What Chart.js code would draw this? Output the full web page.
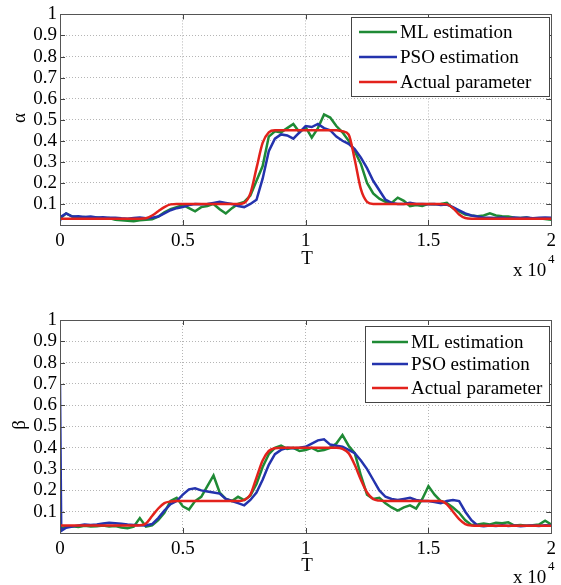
<!DOCTYPE html>
<html>
<head>
<meta charset="utf-8">
<script src="https://cdn.jsdelivr.net/npm/chart.js@4.4.1/dist/chart.umd.min.js"></script>
<style>
  body { margin: 0; background: #fff; width: 561px; height: 585px; position: relative; overflow: hidden; }
  canvas { position: absolute; left: 0; }
</style>
</head>
<body>
<canvas id="alphaChart" width="561" height="290" style="top:0"></canvas>
<canvas id="betaChart" width="561" height="295" style="top:290px"></canvas>
<script>
// sample instants T (shared by all series)
const T = [0, 50, 250, 500, 750, 1000, 1250, 1500, 1750, 2000, 2250, 2500, 2750, 3000, 3250, 3500, 3750, 4000,
  4250, 4500, 4750, 5000, 5250, 5500, 5750, 6000, 6250, 6500, 6750, 7000, 7250, 7500, 7750, 8000,
  8250, 8500, 8750, 9000, 9250, 9500, 9750, 10000, 10250, 10500, 10750, 11000, 11250, 11500, 11750, 12000,
  12250, 12500, 12750, 13000, 13250, 13500, 13750, 14000, 14250, 14500, 14750, 15000, 15250, 15500, 15750, 16000,
  16250, 16500, 16750, 17000, 17250, 17500, 17750, 18000, 18250, 18500, 18750, 19000, 19250, 19500, 19750, 20000];

const seriesNames = ['ML estimation', 'PSO estimation', 'Actual parameter'];
const xTicks = [0, 5000, 10000, 15000, 20000];

// alpha plot
const alphaML = [0.03, 0.035, 0.055, 0.04, 0.035, 0.038, 0.032, 0.035, 0.03, 0.033, 0.025, 0.022, 0.02, 0.018, 0.022, 0.025, 0.027, 0.04,
  0.06, 0.075, 0.085, 0.095, 0.08, 0.065, 0.085, 0.09, 0.10, 0.075, 0.055, 0.08, 0.10, 0.11, 0.14, 0.21,
  0.28, 0.42, 0.445, 0.44, 0.46, 0.48, 0.44, 0.465, 0.415, 0.46, 0.525, 0.51, 0.47, 0.44, 0.40, 0.35,
  0.29, 0.20, 0.15, 0.125, 0.11, 0.105, 0.13, 0.115, 0.09, 0.095, 0.09, 0.10, 0.098, 0.10, 0.105, 0.08,
  0.065, 0.05, 0.045, 0.042, 0.045, 0.055, 0.045, 0.042, 0.04, 0.035, 0.033, 0.035, 0.03, 0.032, 0.028, 0.025];
const alphaPSO = [0.02, 0.04, 0.055, 0.04, 0.042, 0.038, 0.04, 0.036, 0.037, 0.034, 0.035, 0.032, 0.03, 0.033, 0.035, 0.032, 0.034, 0.04,
  0.055, 0.07, 0.08, 0.085, 0.095, 0.10, 0.098, 0.10, 0.105, 0.11, 0.105, 0.10, 0.09, 0.085, 0.10, 0.12,
  0.22, 0.35, 0.41, 0.43, 0.425, 0.41, 0.44, 0.47, 0.465, 0.48, 0.46, 0.45, 0.42, 0.40, 0.385, 0.36,
  0.32, 0.27, 0.21, 0.165, 0.12, 0.105, 0.10, 0.10, 0.105, 0.10, 0.10, 0.098, 0.10, 0.095, 0.097, 0.085,
  0.07, 0.055, 0.045, 0.04, 0.035, 0.035, 0.033, 0.035, 0.032, 0.035, 0.033, 0.035, 0.032, 0.034, 0.036, 0.034];
const alphaActual = [0.03, 0.03, 0.03, 0.03, 0.03, 0.03, 0.03, 0.03, 0.03, 0.03, 0.03, 0.03, 0.03, 0.03, 0.03, 0.032, 0.045, 0.065,
  0.085, 0.098, 0.10, 0.10, 0.10, 0.10, 0.10, 0.10, 0.10, 0.10, 0.10, 0.10, 0.10, 0.105, 0.15, 0.27,
  0.39, 0.44, 0.45, 0.45, 0.45, 0.45, 0.45, 0.45, 0.45, 0.45, 0.45, 0.45, 0.45, 0.445, 0.43, 0.31,
  0.17, 0.11, 0.10, 0.10, 0.10, 0.10, 0.10, 0.10, 0.10, 0.10, 0.10, 0.10, 0.10, 0.10, 0.098, 0.08,
  0.05, 0.033, 0.03, 0.03, 0.03, 0.03, 0.03, 0.03, 0.03, 0.03, 0.03, 0.03, 0.03, 0.03, 0.03, 0.03];

// beta plot
const betaML = [0.02, 0.022, 0.03, 0.032, 0.028, 0.034, 0.03, 0.032, 0.035, 0.03, 0.033, 0.026, 0.022, 0.03, 0.07, 0.03, 0.036, 0.06,
  0.095, 0.15, 0.165, 0.125, 0.11, 0.15, 0.17, 0.22, 0.27, 0.19, 0.16, 0.15, 0.17, 0.155, 0.175, 0.23,
  0.31, 0.37, 0.40, 0.41, 0.395, 0.40, 0.385, 0.39, 0.40, 0.385, 0.39, 0.40, 0.42, 0.46, 0.41, 0.375,
  0.27, 0.18, 0.16, 0.165, 0.14, 0.12, 0.105, 0.12, 0.13, 0.115, 0.16, 0.22, 0.18, 0.15, 0.14, 0.12,
  0.095, 0.06, 0.038, 0.04, 0.045, 0.04, 0.048, 0.046, 0.05, 0.035, 0.038, 0.034, 0.036, 0.04, 0.058, 0.04];
const betaPSO = [0.70, 0.01, 0.025, 0.03, 0.035, 0.04, 0.038, 0.04, 0.045, 0.048, 0.046, 0.044, 0.04, 0.038, 0.036, 0.035, 0.042, 0.07,
  0.105, 0.135, 0.15, 0.18, 0.205, 0.21, 0.20, 0.195, 0.19, 0.185, 0.16, 0.15, 0.14, 0.13, 0.155, 0.19,
  0.25, 0.32, 0.37, 0.39, 0.40, 0.398, 0.40, 0.405, 0.42, 0.435, 0.44, 0.415, 0.41, 0.405, 0.39, 0.375,
  0.34, 0.30, 0.25, 0.20, 0.17, 0.16, 0.155, 0.16, 0.165, 0.155, 0.15, 0.15, 0.145, 0.14, 0.15, 0.155,
  0.15, 0.10, 0.06, 0.035, 0.032, 0.035, 0.033, 0.036, 0.033, 0.035, 0.032, 0.034, 0.035, 0.033, 0.036, 0.035];
const betaActual = [0.035, 0.035, 0.035, 0.035, 0.035, 0.035, 0.035, 0.035, 0.035, 0.035, 0.035, 0.035, 0.035, 0.035, 0.036, 0.045, 0.08, 0.115,
  0.14, 0.148, 0.15, 0.15, 0.15, 0.15, 0.15, 0.15, 0.15, 0.15, 0.15, 0.15, 0.15, 0.155, 0.18, 0.26,
  0.34, 0.385, 0.398, 0.40, 0.40, 0.40, 0.40, 0.40, 0.40, 0.40, 0.40, 0.40, 0.40, 0.395, 0.375, 0.32,
  0.25, 0.19, 0.16, 0.152, 0.15, 0.15, 0.15, 0.15, 0.15, 0.15, 0.15, 0.15, 0.15, 0.15, 0.135, 0.10,
  0.065, 0.042, 0.035, 0.034, 0.034, 0.034, 0.034, 0.034, 0.034, 0.034, 0.034, 0.034, 0.034, 0.034, 0.034, 0.034];

const colors = ['#1f8a35', '#2433ad', '#e3221c'];
const FONT = "'Liberation Serif', 'Times New Roman', serif";
const tickFont = { family: FONT, size: 19 };

Chart.defaults.font.family = FONT;
Chart.defaults.font.size = 19;
Chart.defaults.color = '#000';

// MATLAB-like frame, inward ticks, legend box and axis texts
const matlabFrame = {
  id: 'matlabFrame',
  afterDraw(chart, args, opts) {
    const ctx = chart.ctx;
    const a = chart.chartArea;
    const xs = chart.scales.x, ys = chart.scales.y;
    ctx.save();
    ctx.strokeStyle = '#444';
    ctx.lineWidth = 1;
    ctx.beginPath();
    ys.ticks.forEach(t => {
      const py = Math.round(ys.getPixelForValue(t.value)) + 0.5;
      ctx.moveTo(a.left, py); ctx.lineTo(a.left + 5, py);
      ctx.moveTo(a.right, py); ctx.lineTo(a.right - 5, py);
    });
    xs.ticks.forEach(t => {
      const px = Math.round(xs.getPixelForValue(t.value)) + 0.5;
      ctx.moveTo(px, a.bottom); ctx.lineTo(px, a.bottom - 5);
      ctx.moveTo(px, a.top); ctx.lineTo(px, a.top + 5);
    });
    ctx.stroke();
    ctx.strokeStyle = '#555';
    ctx.strokeRect(Math.round(a.left) + 0.5, Math.round(a.top) + 0.5, Math.round(a.right - a.left), Math.round(a.bottom - a.top));

    // legend
    const L = opts.legend;
    ctx.fillStyle = '#fff';
    ctx.fillRect(L.x, L.y, L.w, L.h);
    ctx.strokeStyle = '#444';
    ctx.strokeRect(L.x + 0.5, L.y + 0.5, L.w, L.h);
    ctx.font = '19px ' + FONT;
    ctx.textBaseline = 'middle';
    ctx.textAlign = 'left';
    chart.data.datasets.forEach((ds, i) => {
      const ry = L.rows[i];
      ctx.strokeStyle = ds.borderColor;
      ctx.lineWidth = 2.5;
      ctx.beginPath();
      ctx.moveTo(L.line0, ry); ctx.lineTo(L.line1, ry);
      ctx.stroke();
      ctx.fillStyle = '#000';
      ctx.fillText(ds.label, L.text, ry + 1);
    });

    // axis labels
    ctx.fillStyle = '#000';
    ctx.textAlign = 'center';
    ctx.fillText('T', opts.tX, opts.tY);
    ctx.save();
    ctx.translate(20, opts.symY);
    ctx.rotate(-Math.PI / 2);
    ctx.fillText(opts.symbol, 0, 0);
    ctx.restore();
    ctx.textAlign = 'left';
    ctx.fillText('x 10', 513, opts.expY);
    ctx.font = '13px ' + FONT;
    ctx.fillText('4', 548, opts.expY - 11);
    ctx.restore();
  }
};

function makeChart(id, symbol, ml, pso, actual, cfg) {
  const ctx = document.getElementById(id).getContext('2d');
  const series = [ml, pso, actual];
  return new Chart(ctx, {
    type: 'line',
    data: {
      datasets: series.map((arr, i) => ({
        label: seriesNames[i],
        data: T.map((t, k) => ({ x: t, y: arr[k] })),
        borderColor: colors[i],
        borderWidth: 2.5,
        pointRadius: 0,
        fill: false,
        order: 3 - i,
        cubicInterpolationMode: i === 2 ? 'monotone' : 'default',
        tension: 0
      }))
    },
    options: {
      responsive: false,
      animation: false,
      layout: { padding: { top: cfg.top, right: 7, left: 0, bottom: 0 } },
      plugins: {
        legend: { display: false },
        tooltip: { enabled: false },
        matlabFrame: cfg
      },
      scales: {
        x: {
          type: 'linear',
          min: 0, max: 20000,
          afterBuildTicks: s => { s.ticks = xTicks.map(v => ({ value: v })); },
          ticks: { callback: v => String(v / 10000), padding: 5, maxRotation: 0, autoSkip: false, font: tickFont, color: '#000' },
          grid: { color: '#b5b5b5', drawTicks: false },
          border: { display: false, dash: [1, 2] },
          afterFit: s => { s.height = cfg.axisH; }
        },
        y: {
          min: 0, max: 1,
          ticks: {
            stepSize: 0.1,
            padding: 3,
            autoSkip: false,
            font: tickFont,
            color: '#000',
            callback: v => (Math.abs(v) < 1e-9 ? '' : String(Math.round(v * 10) / 10))
          },
          grid: { color: '#b5b5b5', drawTicks: false },
          border: { display: false, dash: [1, 2] },
          afterFit: s => { s.width = 60; }
        }
      }
    },
    plugins: [matlabFrame]
  });
}

makeChart('alphaChart', 'α', alphaML, alphaPSO, alphaActual, {
  top: 11, axisH: 65, symbol: 'α', symY: 118, tX: 307, tY: 259, expY: 271,
  legend: { x: 351, y: 17, w: 198, h: 79, rows: [32, 57, 82], line0: 359, line1: 397, text: 400 }
});
makeChart('betaChart', 'β', betaML, betaPSO, betaActual, {
  top: 30, axisH: 52, symbol: 'β', symY: 135, tX: 307, tY: 276, expY: 288,
  legend: { x: 365, y: 36, w: 184, h: 76, rows: [52, 74, 98], line0: 372, line1: 408, text: 411 }
});
</script>
</body>
</html>
